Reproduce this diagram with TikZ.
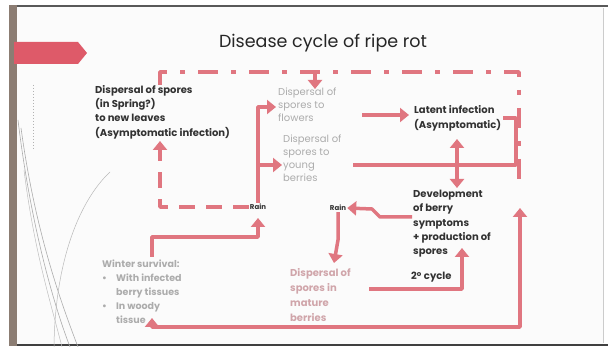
\documentclass[tikz,border=0pt]{standalone}
\usepackage{fontspec}
\setmainfont{Poppins}
\usetikzlibrary{arrows.meta}
\definecolor{pk}{RGB}{224,118,128}
\definecolor{tx}{RGB}{50,50,50}
\definecolor{lg}{RGB}{172,172,172}
\definecolor{mp}{RGB}{208,165,170}
\definecolor{barc}{RGB}{140,125,115}
\definecolor{tabc}{RGB}{222,90,105}
\begin{document}
\begin{tikzpicture}[x=1pt,y=-1pt,
  bt/.style={font=\fontsize{10}{14.3}\selectfont\bfseries, text=tx, align=left, inner sep=0pt, anchor=north west},
  gt/.style={font=\fontsize{10}{13}\selectfont, text=lg, align=left, inner sep=0pt, anchor=north west},
  rt/.style={font=\fontsize{7}{8}\selectfont\bfseries, text=tx, inner sep=1pt},
  ln/.style={draw=pk, line width=3.5pt, line join=round},
  con/.style={ln, -{Triangle[length=9pt,width=14pt]}},
  con2/.style={ln, {Triangle[length=9pt,width=14pt]}-{Triangle[length=9pt,width=14pt]}},
  dsh/.style={con, dash pattern=on 16pt off 11pt},
  dd/.style={ln, dash pattern=on 20pt off 13pt on 5pt off 13pt}]
\useasboundingbox (0,0) rectangle (608,347);
% slide
\fill[white] (0,0) rectangle (608,347);
\fill[gray!3] (16,7) rectangle (603,344);
\draw[gray!40] (603,8) -- (603,343);
\draw[line width=2pt, black!65] (9,6) -- (608,6);
\draw[line width=2pt, black!75] (9,345) -- (608,345);
\fill[barc] (9,5) rectangle (17,346);
\fill[tabc] (14,42) -- (78,42) -- (87,53) -- (78,64) -- (14,64) -- cycle;
% decorative curves
\draw[gray!65, line width=0.6pt] (18,120) .. controls (30,220) and (52,300) .. (70,347);
\draw[gray!65, line width=0.6pt] (21,128) .. controls (35,230) and (60,300) .. (78,347);
\draw[gray!50, line width=0.5pt] (24,170) .. controls (34,250) and (50,300) .. (62,347);
\draw[gray!55, line width=0.5pt] (110,172) .. controls (80,200) and (55,260) .. (54,347);
\draw[gray!60, dotted, line width=1pt] (33,85) -- (33,150);
% title
\node[font=\fontsize{17.5}{20}\selectfont, text=black!85] (title) at (323,43) {Disease cycle of ripe rot};
% texts
\node[bt] (spring) at (95,85) {Dispersal of spores\\(in Spring?)\\to new leaves\\(Asymptomatic infection)};
\node[gt] (flowers) at (278,88) {Dispersal of\\spores to\\flowers};
\node[gt] (young) at (283,135) {Dispersal of\\spores to\\young\\berries};
\node[bt, font=\fontsize{10}{15}\selectfont\bfseries] (latent) at (414,105) {Latent infection\\(Asymptomatic)};
\node[bt] (dev) at (413,190) {Development\\of berry\\symptoms\\+ production of\\spores};
\node[bt] (cycle) at (411,272) {2\textsuperscript{o} cycle};
\node[rt] (rain1) at (258,207) {Rain};
\node[rt] (rain2) at (338,208) {Rain};
\node[gt, font=\fontsize{9.5}{14}\selectfont\bfseries] (winter) at (102,260) {Winter survival:\\\makebox[14pt][l]{•}With infected\\\hspace*{14pt}berry tissues\\\makebox[14pt][l]{•}In woody\\\hspace*{14pt}tissue};
\node[gt, text=mp, font=\fontsize{10}{15}\selectfont\bfseries] (mature) at (290,268) {Dispersal of\\spores in\\mature\\berries};
% coordinates
\coordinate (a0) at (160,85);
\coordinate (a1) at (160,72);
\coordinate (a2) at (519,72);
\coordinate (a3) at (519,190);
\coordinate (fl) at (315,72);
\coordinate (flt) at (315,89);
\coordinate (l1) at (160,207);
\coordinate (l2) at (160,141);
\coordinate (r1) at (276,107);
\coordinate (r2) at (258,165);
\coordinate (r3) at (282,165);
\coordinate (f1) at (362,115);
\coordinate (f2) at (409,115);
\coordinate (y1) at (353,165);
\coordinate (y2) at (516,165);
\coordinate (y3) at (516,118);
\coordinate (y4) at (503,118);
\coordinate (d1) at (457,139);
\coordinate (d2) at (457,188);
\coordinate (e1) at (412,217);
\coordinate (e2) at (380,217);
\coordinate (e3) at (372,209);
\coordinate (m1) at (338,240);
\coordinate (m2) at (334,263);
\coordinate (c1) at (369,289);
\coordinate (c2) at (462,248);
\coordinate (w1) at (152,257);
\coordinate (w2) at (258,237);
\coordinate (w3) at (258,218);
\coordinate (b1) at (520,208);
\coordinate (b2) at (520,327);
\coordinate (b3) at (152,327);
\coordinate (b4) at (152,318);
% connectors
\draw[dd] (a0) -- (a1) -- (a2) -- (a3);
\draw[con] (fl) -- (flt);
\draw[dsh] (rain1.west) -- (l1) -- (l2);
\draw[con] (rain1.north) |- (r1);
\draw[con] (r2) -- (r3);
\draw[con] (f1) -- (f2);
\draw[ln] (y1) -- (y2) -- (y3) -- (y4);
\draw[con2] (d1) -- (d2);
\draw[con] (e1) -- (e2) -- (e3) -- (rain2.east);
\draw[con] (rain2.south) -- (m1) -- (m2);
\draw[con] (c1) -| (c2);
\draw[con] (w1) |- (w2) -- (w3);
\draw[con2] (b1) -- (b2) -- (b3) -- (b4);
\end{tikzpicture}
\end{document}
